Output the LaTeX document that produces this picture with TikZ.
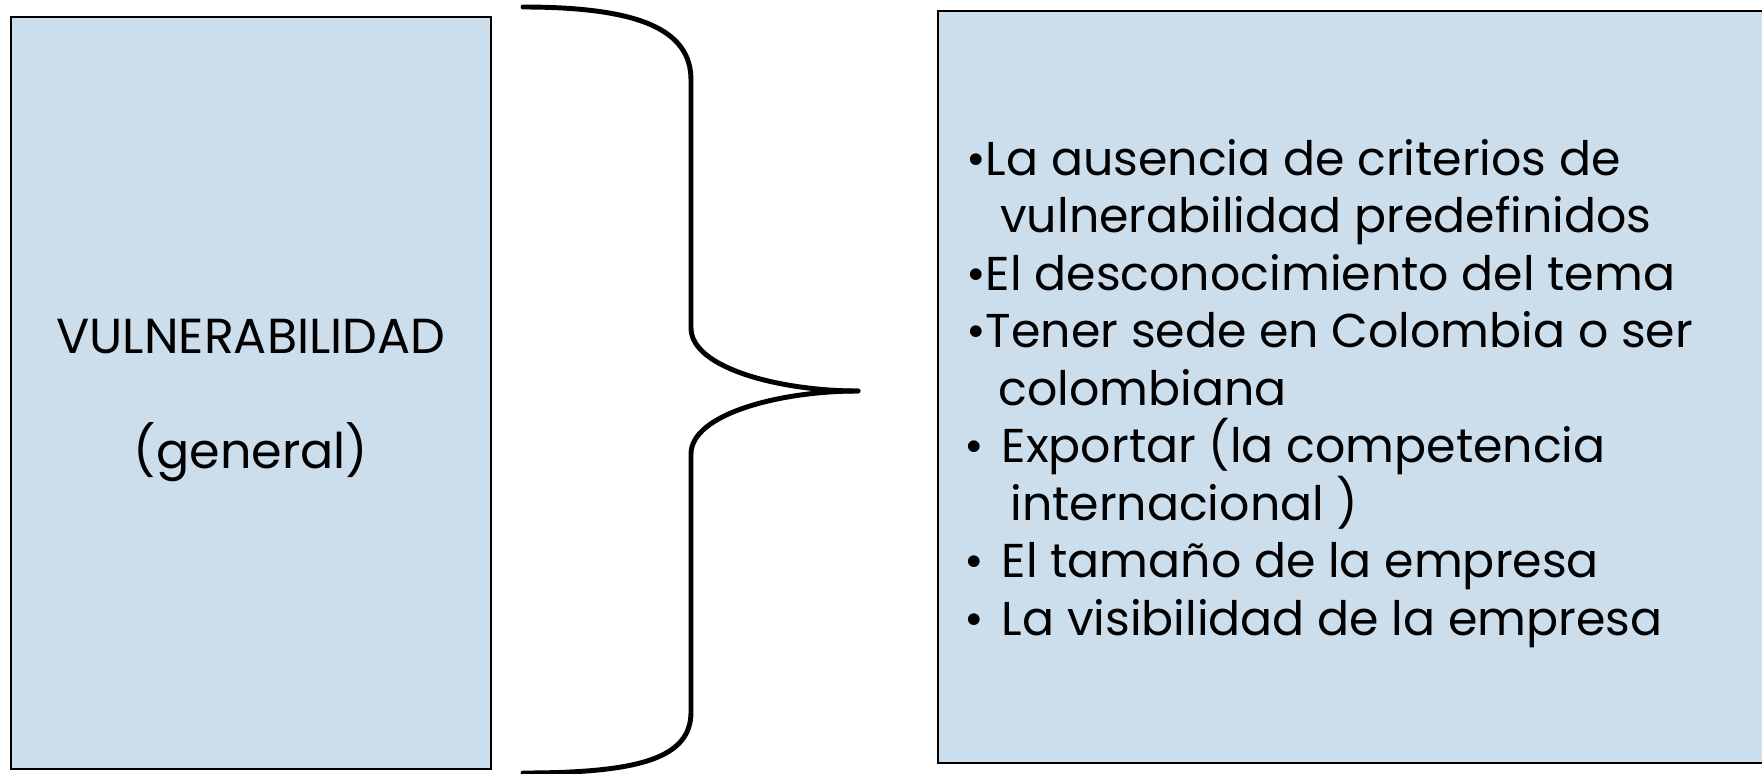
\documentclass[tikz,border=0pt]{standalone}
\usepackage{fontspec}
\setmainfont{Poppins}
\usepackage{tikz}
\definecolor{boxblue}{RGB}{204,221,236}

\begin{document}
\begin{tikzpicture}[x=0.02cm,y=-0.02cm,panel/.style={shape=rectangle,draw=black,line width=1.1pt,fill=boxblue,inner sep=0pt},item/.style={anchor=base west,inner sep=0pt,font=\fontsize{27}{31}\selectfont},title/.style={anchor=base,inner sep=0pt,font=\fontsize{28}{32}\selectfont}]
\def\dy{57.5};
\def\ya{175};
\def\xa{966};
\def\xb{964};

\useasboundingbox (0,0) rectangle (1762,774);

\node[panel,minimum width=9.62cm,minimum height=15.04cm] (G) at (251,393) {};
\node[title] (V) at (251,353) {VULNERABILIDAD};
\node[title] (Gn) at (251,468) {(general)};

\draw[line width=2.8pt,line cap=round] (523,7) .. controls (640,7) and (691,30) .. (691,80) -- (691,328) .. controls (691,368) and (780,391) .. (858,391);
\draw[line width=2.8pt,line cap=round] (858,391) .. controls (780,391) and (691,414) .. (691,454) -- (691,712) .. controls (691,758) and (640,773) .. (523,773);

\node[panel,minimum width=16.6cm,minimum height=15.04cm,anchor=north west] (F) at (937,10) {};
\node[item] (l1) at (\xa,\ya) {•La ausencia de criterios de};
\node[item] (l2) at (1000,\ya+\dy) {vulnerabilidad predefinidos};
\node[item] (l3) at (\xa,\ya+2*\dy) {•El desconocimiento del tema};
\node[item] (l4) at (\xa,\ya+3*\dy) {•Tener sede en Colombia o ser};
\node[item] (l5) at (998,\ya+4*\dy) {colombiana};
\node[item] (l6) at (\xb,\ya+5*\dy) {•\kern3pt\ Exportar (la competencia};
\node[item] (l7) at (1010,\ya+6*\dy) {internacional )};
\node[item] (l8) at (\xb,\ya+7*\dy) {•\kern3pt\ El tamaño de la empresa};
\node[item] (l9) at (\xb,\ya+8*\dy) {•\kern3pt\ La visibilidad de la empresa};
\end{tikzpicture}
\end{document}
